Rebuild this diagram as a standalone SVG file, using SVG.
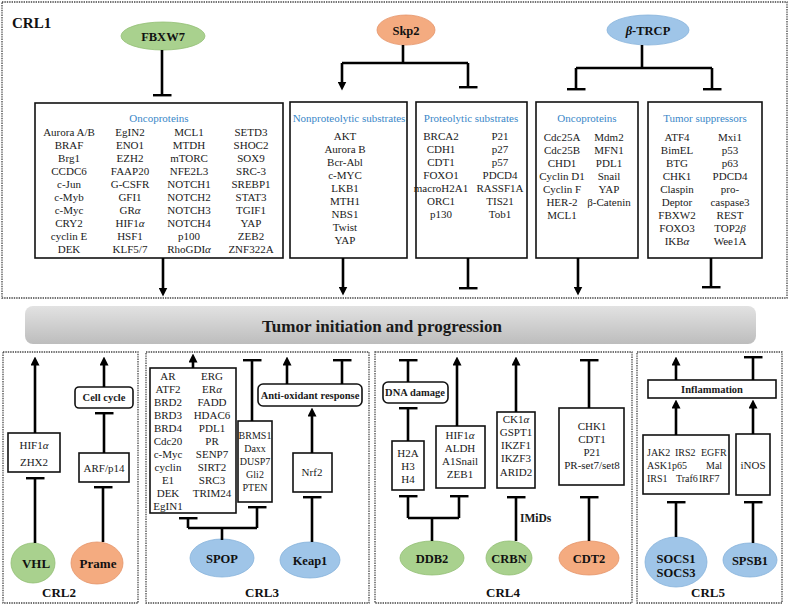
<svg xmlns="http://www.w3.org/2000/svg" width="789" height="606" viewBox="0 0 789 606">
<style>
.t{font-family:"Liberation Serif","Times New Roman",serif;font-size:11px;fill:#1a1a1a;text-anchor:middle}
.s{font-size:10px}
.l{text-anchor:start}
.b{font-weight:bold}
.h{fill:#3a87c8}
.lab{font-family:"Liberation Serif","Times New Roman",serif;font-weight:bold;font-size:13px;fill:#111;text-anchor:middle}
.el{font-family:"Liberation Serif","Times New Roman",serif;font-weight:bold;font-size:12.5px;fill:#111;text-anchor:middle}
.box{fill:#fff;stroke:#111;stroke-width:1.6}
.panel{fill:none;stroke:#444;stroke-width:1.3;stroke-dasharray:1.4 1}
.ln{fill:none;stroke:#000;stroke-width:2.6}
.ar{marker-end:url(#arr)}
.tee{marker-end:url(#tee)}
.g{fill:#a9d18e;stroke:#93bf75;stroke-width:0.8}
.o{fill:#f4ab80;stroke:#e5946a;stroke-width:0.8}
.u{fill:#9fc5e8;stroke:#86b2da;stroke-width:0.8}
i{font-style:italic}
</style>
<defs>
<marker id="arr" markerUnits="userSpaceOnUse" viewBox="0 0 10 10" markerWidth="9" markerHeight="9" refX="5" refY="5" orient="auto"><path d="M0,0 L10,5 L0,10 z" fill="#000"/></marker>
<marker id="tee" markerUnits="userSpaceOnUse" viewBox="0 0 3 20" markerWidth="3" markerHeight="19" refX="1.5" refY="10" orient="auto"><rect x="0" y="0" width="3" height="20" fill="#000"/></marker>
<linearGradient id="bar" x1="0" y1="0" x2="0" y2="1"><stop offset="0" stop-color="#e2e2e2"/><stop offset="1" stop-color="#bdbdbd"/></linearGradient>
</defs>

<g id="panels">
<rect class="panel" x="2" y="2" width="785" height="296"/>
<rect class="panel" x="3" y="352" width="135" height="251"/>
<rect class="panel" x="146" y="352" width="223" height="251"/>
<rect class="panel" x="375" y="352" width="257" height="251"/>
<rect class="panel" x="637" y="352" width="145" height="251"/>
<text class="lab" x="12" y="28" style="text-anchor:start;font-size:15px">CRL1</text>
<text class="lab" x="59" y="597">CRL2</text>
<text class="lab" x="262" y="597">CRL3</text>
<text class="lab" x="503" y="597">CRL4</text>
<text class="lab" x="708" y="597">CRL5</text>
</g>

<g id="tumor">
<rect x="25" y="306" width="731" height="38" rx="8" fill="url(#bar)"/>
<text class="t b" x="382" y="332" style="font-size:17px">Tumor initiation and progression</text>
</g>

<!-- CRL1 -->
<g id="FBXW7"><ellipse class="g" cx="163" cy="36" rx="42" ry="14"/><text class="el" x="163" y="41">FBXW7</text></g>
<g id="fbxw7-onco">
<rect class="box" x="35" y="103" width="248" height="155"/>
<text class="t h" x="159" y="122">Oncoproteins</text>
<text class="t" x="69" y="136">Aurora A/B</text><text class="t" x="69" y="149">BRAF</text><text class="t" x="69" y="162">Brg1</text><text class="t" x="69" y="175">CCDC6</text><text class="t" x="69" y="188">c-Jun</text><text class="t" x="69" y="201">c-Myb</text><text class="t" x="69" y="214">c-Myc</text><text class="t" x="69" y="227">CRY2</text><text class="t" x="69" y="240">cyclin E</text><text class="t" x="69" y="253">DEK</text>
<text class="t" x="130" y="136">EgIN2</text><text class="t" x="130" y="149">ENO1</text><text class="t" x="130" y="162">EZH2</text><text class="t" x="130" y="175">FAAP20</text><text class="t" x="130" y="188">G-CSFR</text><text class="t" x="130" y="201">GFI1</text><text class="t" x="130" y="214">GR<tspan font-style="italic">α</tspan></text><text class="t" x="130" y="227">HIF1<tspan font-style="italic">α</tspan></text><text class="t" x="130" y="240">HSF1</text><text class="t" x="130" y="253">KLF5/7</text>
<text class="t" x="189" y="136">MCL1</text><text class="t" x="189" y="149">MTDH</text><text class="t" x="189" y="162">mTORC</text><text class="t" x="189" y="175">NFE2L3</text><text class="t" x="189" y="188">NOTCH1</text><text class="t" x="189" y="201">NOTCH2</text><text class="t" x="189" y="214">NOTCH3</text><text class="t" x="189" y="227">NOTCH4</text><text class="t" x="189" y="240">p100</text><text class="t" x="189" y="253">RhoGDI<tspan font-style="italic">α</tspan></text>
<text class="t" x="251" y="136">SETD3</text><text class="t" x="251" y="149">SHOC2</text><text class="t" x="251" y="162">SOX9</text><text class="t" x="251" y="175">SRC-3</text><text class="t" x="251" y="188">SREBP1</text><text class="t" x="251" y="201">STAT3</text><text class="t" x="251" y="214">TGIF1</text><text class="t" x="251" y="227">YAP</text><text class="t" x="251" y="240">ZEB2</text><text class="t" x="251" y="253">ZNF322A</text>
</g>

<g id="Skp2"><ellipse class="o" cx="406" cy="30" rx="29" ry="15"/><text class="el" x="406" y="35">Skp2</text></g>
<g id="skp2-nonprot">
<rect class="box" x="290" y="102" width="117" height="156"/>
<text class="t h" x="349" y="122">Nonproteolytic substrates</text>
<text class="t" x="345" y="140">AKT</text><text class="t" x="345" y="153">Aurora B</text><text class="t" x="345" y="166">Bcr-Abl</text><text class="t" x="345" y="179">c-MYC</text><text class="t" x="345" y="192">LKB1</text><text class="t" x="345" y="205">MTH1</text><text class="t" x="345" y="218">NBS1</text><text class="t" x="345" y="231">Twist</text><text class="t" x="345" y="244">YAP</text>
</g>
<g id="skp2-prot">
<rect class="box" x="416" y="102" width="111" height="156"/>
<text class="t h" x="471" y="122">Proteolytic substrates</text>
<text class="t" x="441" y="140">BRCA2</text><text class="t" x="441" y="153">CDH1</text><text class="t" x="441" y="166">CDT1</text><text class="t" x="441" y="179">FOXO1</text><text class="t" x="441" y="192">macroH2A1</text><text class="t" x="441" y="205">ORC1</text><text class="t" x="441" y="218">p130</text>
<text class="t" x="500" y="140">P21</text><text class="t" x="500" y="153">p27</text><text class="t" x="500" y="166">p57</text><text class="t" x="500" y="179">PDCD4</text><text class="t" x="500" y="192">RASSF1A</text><text class="t" x="500" y="205">TIS21</text><text class="t" x="500" y="218">Tob1</text>
</g>

<g id="bTRCP"><ellipse class="u" cx="648" cy="30" rx="41" ry="15"/><text class="el" x="648" y="35"><tspan font-style="italic">β</tspan>-TRCP</text></g>
<g id="btrcp-onco">
<rect class="box" x="536" y="102" width="102" height="156"/>
<text class="t h" x="587" y="122">Oncoproteins</text>
<text class="t" x="562" y="141">Cdc25A</text><text class="t" x="562" y="154">Cdc25B</text><text class="t" x="562" y="167">CHD1</text><text class="t" x="562" y="180">Cyclin D1</text><text class="t" x="562" y="193">Cyclin F</text><text class="t" x="562" y="206">HER-2</text><text class="t" x="562" y="219">MCL1</text>
<text class="t" x="609" y="141">Mdm2</text><text class="t" x="609" y="154">MFN1</text><text class="t" x="609" y="167">PDL1</text><text class="t" x="609" y="180">Snail</text><text class="t" x="609" y="193">YAP</text><text class="t" x="609" y="206">β-Catenin</text>
</g>
<g id="btrcp-ts">
<rect class="box" x="648" y="102" width="114" height="156"/>
<text class="t h" x="705" y="122">Tumor suppressors</text>
<text class="t" x="677" y="141">ATF4</text><text class="t" x="677" y="154">BimEL</text><text class="t" x="677" y="167">BTG</text><text class="t" x="677" y="180">CHK1</text><text class="t" x="677" y="193">Claspin</text><text class="t" x="677" y="206">Deptor</text><text class="t" x="677" y="219">FBXW2</text><text class="t" x="677" y="232">FOXO3</text><text class="t" x="677" y="245">IKB<tspan font-style="italic">α</tspan></text>
<text class="t" x="730" y="141">Mxi1</text><text class="t" x="730" y="154">p53</text><text class="t" x="730" y="167">p63</text><text class="t" x="730" y="180">PDCD4</text><text class="t" x="730" y="193">pro-</text><text class="t" x="730" y="206">caspase3</text><text class="t" x="730" y="219">REST</text><text class="t" x="730" y="232">TOP2<tspan font-style="italic">β</tspan></text><text class="t" x="730" y="245">Wee1A</text>
</g>

<!-- CRL2 -->
<g id="VHL"><ellipse class="g" cx="33" cy="563" rx="22" ry="20"/><text class="el" x="36" y="568" style="font-size:13px">VHL</text></g>
<g id="hif-zhx2"><rect class="box" x="8" y="433" width="52" height="39"/><text class="t" x="34" y="449">HIF1<tspan font-style="italic">α</tspan></text><text class="t" x="34" y="466">ZHX2</text></g>
<g id="Prame"><ellipse class="o" cx="97" cy="563" rx="26" ry="21"/><text class="el" x="98" y="568" style="font-size:13px">Prame</text></g>
<g id="arf"><rect class="box" x="79" y="453" width="50" height="29"/><text class="t" x="104" y="472">ARF/p14</text></g>
<g id="cellcycle"><rect class="box" x="75" y="387" width="58" height="21" rx="4"/><text class="t b" x="104" y="401" style="font-size:10.5px">Cell cycle</text></g>

<!-- CRL3 -->
<g id="SPOP"><ellipse class="u" cx="222" cy="558" rx="32" ry="19"/><text class="el" x="222" y="563">SPOP</text></g>
<g id="Keap1"><ellipse class="u" cx="310" cy="560" rx="30" ry="18"/><text class="el" x="310" y="565">Keap1</text></g>
<g id="spop-sub1">
<rect class="box" x="150" y="368" width="86" height="145"/>
<text class="t" x="168" y="380">AR</text><text class="t" x="168" y="393">ATF2</text><text class="t" x="168" y="406">BRD2</text><text class="t" x="168" y="419">BRD3</text><text class="t" x="168" y="432">BRD4</text><text class="t" x="168" y="445">Cdc20</text><text class="t" x="168" y="458">c-Myc</text><text class="t" x="168" y="471">cyclin</text><text class="t" x="168" y="484">E1</text><text class="t" x="168" y="497">DEK</text><text class="t" x="168" y="510">EgIN1</text>
<text class="t" x="212" y="380">ERG</text><text class="t" x="212" y="393">ER<tspan font-style="italic">α</tspan></text><text class="t" x="212" y="406">FADD</text><text class="t" x="212" y="419">HDAC6</text><text class="t" x="212" y="432">PDL1</text><text class="t" x="212" y="445">PR</text><text class="t" x="212" y="458">SENP7</text><text class="t" x="212" y="471">SIRT2</text><text class="t" x="212" y="484">SRC3</text><text class="t" x="212" y="497">TRIM24</text>
</g>
<g id="spop-sub2">
<rect class="box" x="238" y="421" width="34" height="81"/>
<text class="t s" x="255" y="439">BRMS1</text><text class="t s" x="255" y="452">Daxx</text><text class="t s" x="255" y="465">DUSP7</text><text class="t s" x="255" y="478">Gli2</text><text class="t s" x="255" y="491">PTEN</text>
</g>
<g id="antiox"><rect class="box" x="258" y="384" width="104" height="22" rx="5"/><text class="t b" x="310" y="399" style="font-size:10.5px">Anti-oxidant response</text></g>
<g id="nrf2"><rect class="box" x="293" y="453" width="39" height="39"/><text class="t" x="312" y="476">Nrf2</text></g>

<!-- CRL4 -->
<g id="DDB2"><ellipse class="g" cx="432" cy="558" rx="32" ry="17"/><text class="el" x="432" y="563">DDB2</text></g>
<g id="CRBN"><ellipse class="g" cx="509" cy="558" rx="23" ry="17"/><text class="el" x="509" y="563">CRBN</text></g>
<g id="CDT2"><ellipse class="o" cx="589" cy="558" rx="30" ry="17"/><text class="el" x="589" y="563">CDT2</text></g>
<g id="dnadamage"><rect class="box" x="383" y="382" width="65" height="21" rx="5"/><text class="t b" x="415" y="396" style="font-size:10.5px">DNA damage</text></g>
<g id="histones"><rect class="box" x="392" y="441" width="32" height="49"/><text class="t" x="408" y="457">H2A</text><text class="t" x="408" y="470">H3</text><text class="t" x="408" y="483">H4</text></g>
<g id="ddb2-sub"><rect class="box" x="436" y="426" width="49" height="62"/><text class="t" x="460" y="439">HIF1<tspan font-style="italic">α</tspan></text><text class="t" x="460" y="452">ALDH</text><text class="t" x="460" y="465">A1Snail</text><text class="t" x="460" y="478">ZEB1</text></g>
<g id="crbn-sub"><rect class="box" x="497" y="412" width="38" height="76"/><text class="t" x="516" y="423">CK1<tspan font-style="italic">α</tspan></text><text class="t" x="516" y="436">GSPT1</text><text class="t" x="516" y="449">IKZF1</text><text class="t" x="516" y="462">IKZF3</text><text class="t" x="516" y="476">ARID2</text></g>
<g id="cdt2-sub"><rect class="box" x="559" y="408" width="65" height="77"/><text class="t" x="592" y="430">CHK1</text><text class="t" x="592" y="443">CDT1</text><text class="t" x="592" y="456">P21</text><text class="t" x="592" y="469">PR-set7/set8</text></g>
<text class="t b l" x="520" y="522" style="font-size:11.5px">IMiDs</text>

<!-- CRL5 -->
<g id="SOCS"><ellipse class="u" cx="676" cy="562" rx="31" ry="25"/><text class="el" x="676" y="563">SOCS1</text><text class="el" x="676" y="577">SOCS3</text></g>
<g id="SPSB1"><ellipse class="u" cx="750" cy="560" rx="27" ry="17"/><text class="el" x="750" y="565">SPSB1</text></g>
<g id="inflammation"><rect class="box" x="648" y="380" width="128" height="18"/><text class="t b" x="712" y="393" style="font-size:10.5px">Inflammation</text></g>
<g id="socs-sub"><rect class="box" x="643" y="435" width="86" height="59"/>
<text class="t s l" x="647" y="456">JAK2</text><text class="t s l" x="675" y="456">IRS2</text><text class="t s l" x="701" y="456">EGFR</text>
<text class="t s l" x="647" y="469">ASK1</text><text class="t s l" x="672" y="469">p65</text><text class="t s l" x="706" y="469">Mal</text>
<text class="t s l" x="647" y="482">IRS1</text><text class="t s l" x="676" y="482">Traf6</text><text class="t s l" x="699" y="482">IRF7</text>
</g>
<g id="inos"><rect class="box" x="736" y="434" width="34" height="61"/><text class="t" x="753" y="469">iNOS</text></g>

<g id="connectors">
<!-- CRL1 -->
<path class="ln tee" d="M162,50 V95"/>
<path class="ln ar" d="M163,258 V292"/>
<path class="ln" d="M403,45 V63 M342,63 H468"/>
<path class="ln ar" d="M342,63 V86"/>
<path class="ln tee" d="M468,63 V87"/>
<path class="ln ar" d="M343,258 V291"/>
<path class="ln tee" d="M468,258 V288"/>
<path class="ln" d="M642,45 V68 M576,68 H712"/>
<path class="ln tee" d="M576,68 V89"/>
<path class="ln tee" d="M712,68 V89"/>
<path class="ln ar" d="M578,258 V291"/>
<path class="ln tee" d="M711,258 V287"/>
<!-- CRL2 -->
<path class="ln tee" d="M35,543 V478"/>
<path class="ln ar" d="M35,433 V361"/>
<path class="ln tee" d="M103,542 V487"/>
<path class="ln tee" d="M104,453 V413"/>
<path class="ln ar" d="M104,387 V361"/>
<!-- CRL3 -->
<path class="ln ar" d="M193,368 V358"/>
<path class="ln" d="M188,528 H257 M222,528 V540"/>
<path class="ln tee" d="M188,528 V518"/>
<path class="ln tee" d="M257,528 V507"/>
<path class="ln tee" d="M252,421 V360"/>
<path class="ln ar" d="M287,384 V361"/>
<path class="ln tee" d="M342,384 V360"/>
<path class="ln ar" d="M312,453 V412"/>
<path class="ln tee" d="M312,542 V497"/>
<!-- CRL4 -->
<path class="ln tee" d="M408,382 V360"/>
<path class="ln tee" d="M408,441 V408"/>
<path class="ln ar" d="M457,426 V361"/>
<path class="ln" d="M408,518 H459 M432,518 V541"/>
<path class="ln tee" d="M408,518 V496"/>
<path class="ln tee" d="M459,518 V496"/>
<path class="ln ar" d="M516,412 V361"/>
<path class="ln tee" d="M516,541 V497"/>
<path class="ln tee" d="M589,408 V360"/>
<path class="ln tee" d="M589,541 V497"/>
<!-- CRL5 -->
<path class="ln ar" d="M676,380 V361"/>
<path class="ln tee" d="M753,380 V357"/>
<path class="ln ar" d="M676,435 V404"/>
<path class="ln ar" d="M753,434 V404"/>
<path class="ln tee" d="M676,537 V502"/>
<path class="ln tee" d="M753,543 V502"/>
</g>
</svg>
